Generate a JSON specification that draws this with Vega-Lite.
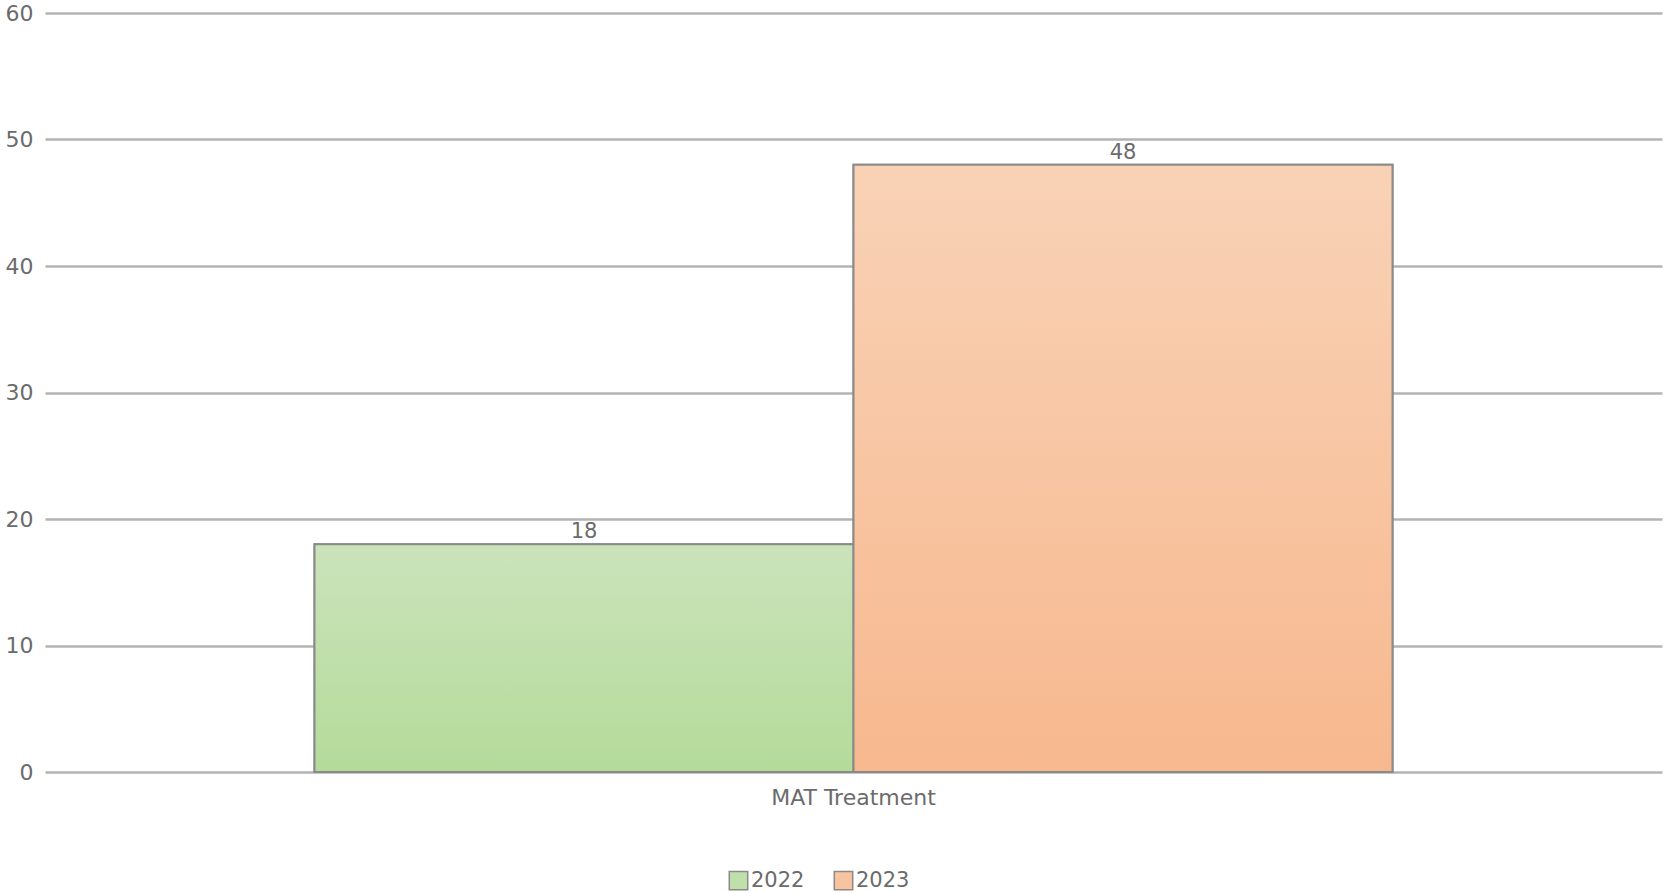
{
  "$schema": "https://vega.github.io/schema/vega-lite/v6.json",
  "width": 1617,
  "height": 759,
  "padding": {"left": 5, "top": 2, "right": 2, "bottom": 4},
  "background": "white",
  "config": {
    "view": {"stroke": null},
    "font": "DejaVu Sans",
    "axis": {"labelFont": "DejaVu Sans", "labelColor": "#6b6b6b", "labelFontSize": 22}
  },
  "data": {
    "values": [
      {"category": "MAT Treatment", "year": "2022", "value": 18},
      {"category": "MAT Treatment", "year": "2023", "value": 48}
    ]
  },
  "encoding": {
    "x": {
      "field": "category",
      "type": "nominal",
      "scale": {"paddingInner": 0, "paddingOuter": 0.25},
      "axis": {"title": null, "domain": false, "ticks": false, "labelAngle": 0, "labelPadding": 15}
    },
    "xOffset": {"field": "year", "type": "nominal", "scale": {"paddingInner": 0, "paddingOuter": 0}},
    "y": {
      "field": "value",
      "type": "quantitative",
      "scale": {"domain": [0, 60], "nice": false},
      "axis": {
        "title": null,
        "values": [0, 10, 20, 30, 40, 50, 60],
        "domain": false,
        "ticks": false,
        "labelPadding": 12,
        "gridColor": "#b3b3b3",
        "gridWidth": 2.5
      }
    }
  },
  "layer": [
    {
      "mark": {"type": "bar", "stroke": "#8a8a8a", "strokeWidth": 2},
      "encoding": {
        "color": {
          "field": "year",
          "type": "nominal",
          "scale": {"domain": ["2022", "2023"], "range": ["#c0e0ab", "#f8c4a0"]},
          "legend": {
            "title": null,
            "orient": "none",
            "legendX": 683,
            "legendY": 857,
            "direction": "horizontal",
            "symbolType": "square",
            "symbolSize": 340,
            "symbolStrokeColor": "#8a8a8a",
            "symbolStrokeWidth": 1.5,
            "labelFontSize": 21,
            "labelColor": "#6b6b6b",
            "labelFont": "DejaVu Sans",
            "labelOffset": 2,
            "columnPadding": 26
          }
        }
      }
    },
    {
      "transform": [{"filter": "datum.year === '2022'"}],
      "mark": {
        "type": "bar",
        "stroke": "#8a8a8a",
        "strokeWidth": 2,
        "fill": {
          "gradient": "linear", "x1": 0, "y1": 0, "x2": 0, "y2": 1,
          "stops": [{"offset": 0, "color": "#cbe3bb"}, {"offset": 1, "color": "#b4db9a"}]
        }
      }
    },
    {
      "transform": [{"filter": "datum.year === '2023'"}],
      "mark": {
        "type": "bar",
        "stroke": "#8a8a8a",
        "strokeWidth": 2,
        "fill": {
          "gradient": "linear", "x1": 0, "y1": 0, "x2": 0, "y2": 1,
          "stops": [{"offset": 0, "color": "#f9d2b6"}, {"offset": 1, "color": "#f7b88e"}]
        }
      }
    },
    {
      "mark": {"type": "text", "baseline": "bottom", "dy": -2, "fontSize": 21, "color": "#6b6b6b", "font": "DejaVu Sans"},
      "encoding": {"text": {"field": "value", "type": "quantitative"}}
    }
  ]
}
